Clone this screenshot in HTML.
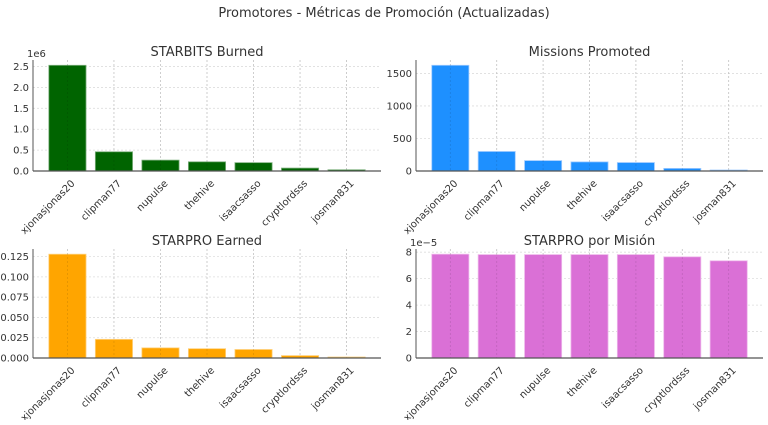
<!DOCTYPE html>
<html><head><meta charset="utf-8"><style>
body{margin:0;background:#fff;font-family:"Liberation Sans","DejaVu Sans",sans-serif;}
svg text{font-family:"DejaVu Sans","Liberation Sans",sans-serif;fill:#333;}
</style></head><body>
<svg id="c" width="768" height="420" xmlns="http://www.w3.org/2000/svg">
<text x="384" y="17" text-anchor="middle" font-size="13">Promotores - Métricas de Promoción (Actualizadas)</text>
</svg>
<script>
const categories=["xjonasjonas20","clipman77","nupulse","thehive","isaacsasso","cryptlordsss","josman831"];
const starbitsBurned=[2.53e6,0.46e6,0.26e6,0.22e6,0.20e6,0.07e6,0.03e6];
const missionsPromoted=[1625,300,160,140,130,40,15];
const starproEarned=[0.128,0.023,0.0125,0.0115,0.0105,0.003,0.0012];
const starproPorMision=[7.85e-5,7.82e-5,7.82e-5,7.82e-5,7.82e-5,7.65e-5,7.35e-5];
const ticksBurned=[0,0.5e6,1.0e6,1.5e6,2.0e6,2.5e6];
const tickLabelsBurned=["0.0","0.5","1.0","1.5","2.0","2.5"];
const ticksMissions=[0,500,1000,1500];
const tickLabelsMissions=["0","500","1000","1500"];
const ticksEarned=[0,0.025,0.05,0.075,0.1,0.125];
const tickLabelsEarned=["0.000","0.025","0.050","0.075","0.100","0.125"];
const ticksPorMision=[0,2e-5,4e-5,6e-5,8e-5];
const tickLabelsPorMision=["0","2","4","6","8"];

const svg=document.getElementById('c');
const NS='http://www.w3.org/2000/svg';
function mk(t,a,p){const e=document.createElementNS(NS,t);for(const k in a)e.setAttribute(k,a[k]);(p||svg).appendChild(e);return e;}

function panel(o){
  const g=mk('g',{});
  
  
  const n=categories.length;
  const xmin=-0.74,xmax=n-1+0.74;
  const ymax=Math.max(...o.values)*1.05;
  const x=i=>o.l+(i-xmin)/(xmax-xmin)*(o.r-o.l);
  const y=v=>o.b-v/ymax*(o.b-o.t);
  // grid
  o.ticks.forEach(v=>{const ln=mk('line',{x1:o.l,x2:o.r,y1:y(v),y2:y(v),stroke:'#ddd','stroke-dasharray':'2,2','stroke-width':0.8},g);
    });
  categories.forEach((c,i)=>{const ln=mk('line',{x1:x(i),x2:x(i),y1:o.t,y2:o.b,stroke:'#ddd','stroke-dasharray':'2,2','stroke-width':0.8},g);
    });
  // bars
  o.values.forEach((v,i)=>{const w=(x(0.4)-x(-0.4));
    const r=mk('rect',{x:x(i)-w/2,y:y(v),width:w,height:o.b-y(v),fill:o.color,stroke:o.edge,'stroke-width':0.8},g);
    });
  // vertical grid over bars (matplotlib draws grid above)
  categories.forEach((c,i)=>{mk('line',{x1:x(i),x2:x(i),y1:o.t,y2:o.b,stroke:'rgba(0,0,0,0.12)','stroke-dasharray':'2,2','stroke-width':0.8},g);});
  // spines
  const sl=mk('line',{x1:o.l,x2:o.l,y1:o.t,y2:o.b,stroke:'#555','stroke-width':1},g);
  
  const sb=mk('line',{x1:o.l,x2:o.r,y1:o.b,y2:o.b,stroke:'#555','stroke-width':1.2},g);
  
  // y ticks
  o.ticks.forEach((v,k)=>{const t=mk('text',{x:o.l-4,y:y(v)+3.5,'text-anchor':'end','font-size':10},g);t.textContent=o.tickLabels[k];
    });
  if(o.mult){const t=mk('text',{x:o.l-6,y:o.t-3,'font-size':10},g);t.textContent=o.mult;
    }
  // x labels
  categories.forEach((c,i)=>{const px=x(i)+3,py=o.b+8;
    const t=mk('text',{x:px,y:py,'text-anchor':'end','font-size':10,transform:`rotate(-45 ${px} ${py})`,dy:'0.7em'},g);t.textContent=c;
    });
  const tt=mk('text',{x:(o.l+o.r)/2,y:o.t-4,'text-anchor':'middle','font-size':13},g);tt.textContent=o.title;
  
}
panel({name:'starbits-burned-panel',title:'STARBITS Burned',values:starbitsBurned,ticks:ticksBurned,tickLabels:tickLabelsBurned,mult:'1e6',l:33,r:381,t:60,b:171,color:'#006400',edge:'#7fb07f'});
panel({name:'missions-promoted-panel',title:'Missions Promoted',values:missionsPromoted,ticks:ticksMissions,tickLabels:tickLabelsMissions,l:416,r:763,t:60,b:171,color:'#1e90ff',edge:'#9fcaff'});
panel({name:'starpro-earned-panel',title:'STARPRO Earned',values:starproEarned,ticks:ticksEarned,tickLabels:tickLabelsEarned,l:33,r:381,t:249,b:358,color:'#ffa500',edge:'#ffd27f'});
panel({name:'starpro-por-mision-panel',title:'STARPRO por Misión',values:starproPorMision,ticks:ticksPorMision,tickLabels:tickLabelsPorMision,mult:'1e−5',l:416,r:763,t:249,b:358,color:'#da70d6',edge:'#eeb8eb'});
</script>
</body></html>
